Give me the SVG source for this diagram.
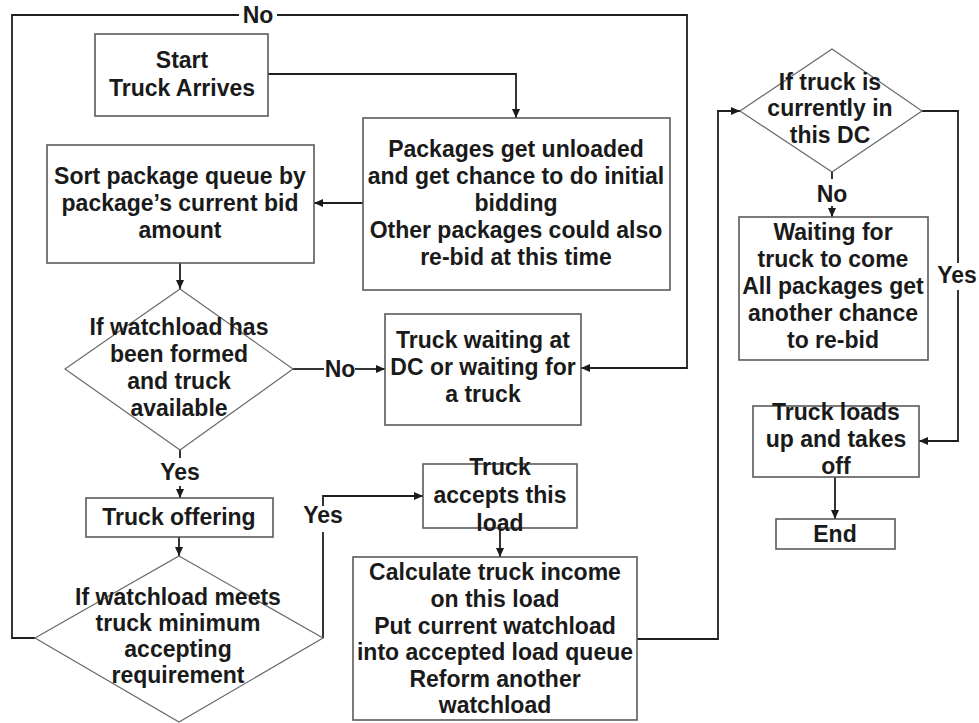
<svg xmlns="http://www.w3.org/2000/svg" width="979" height="723" viewBox="0 0 979 723">
  <defs>
    <marker id="arrow" markerUnits="userSpaceOnUse" markerWidth="10" markerHeight="8" refX="9" refY="4" orient="auto">
      <path d="M0,0 L9,4 L0,8 Z" fill="#1a1a1a"/>
    </marker>
    <style>
      .box { fill: #ffffff; stroke: #5a5a5a; stroke-width: 1.6; }
      .dia { fill: #ffffff; stroke: #6a6a6a; stroke-width: 1.2; }
      .link { fill: none; stroke: #1f1f1f; stroke-width: 1.8; }
      .arr { marker-end: url(#arrow); }
      text { font-family: "Liberation Sans", Arial, sans-serif; font-weight: bold; font-size: 23px; fill: #1a1a1a; text-anchor: middle; }
      .lbl { fill: #1a1a1a; }
    </style>
  </defs>

  <rect width="979" height="723" fill="#ffffff"/>

  <!-- connectors -->
  <g id="connectors">
    <!-- start -> unload packages -->
    <path class="link arr" d="M268,74 H516 V118"/>
    <!-- unload packages -> sort queue -->
    <path class="link arr" d="M363,203 H314"/>
    <!-- sort queue -> watchload formed? -->
    <path class="link arr" d="M180,263 V289"/>
    <!-- formed? No -> truck waiting -->
    <path class="link" d="M293,369 H324"/>
    <path class="link arr" d="M355,369 H385"/>
    <!-- formed? Yes -> truck offering -->
    <path class="link" d="M180,450 V458"/>
    <path class="link arr" d="M180,486 V498"/>
    <!-- truck offering -> meets requirement? -->
    <path class="link arr" d="M179,537 V556"/>
    <!-- meets requirement? No -> loop back to truck waiting -->
    <path class="link" d="M35,638 H12 V15 H239"/>
    <path class="link arr" d="M277,15 H687 V368 H581"/>
    <!-- meets requirement? Yes -> truck accepts load -->
    <path class="link" d="M323,638 V532"/>
    <path class="link arr" d="M323,506 V496 H423"/>
    <!-- truck accepts -> calculate income -->
    <path class="link arr" d="M500,528 V557"/>
    <!-- calculate income -> truck in DC? -->
    <path class="link arr" d="M637,639 H718 V111 H740"/>
    <!-- truck in DC? No -> waiting for truck -->
    <path class="link" d="M832,172 V179"/>
    <path class="link arr" d="M832,206 V217"/>
    <!-- truck in DC? Yes -> truck loads -->
    <path class="link" d="M922,111 H958 V263"/>
    <path class="link arr" d="M958,290 V441 H919"/>
    <!-- truck loads -> end -->
    <path class="link arr" d="M835,477 V519"/>
  </g>

  <!-- edge labels -->
  <g id="labels">
    <text x="258" y="23">No</text>
    <text x="340" y="377">No</text>
    <text x="180" y="480">Yes</text>
    <text x="323" y="523">Yes</text>
    <text x="832" y="202">No</text>
    <text x="957" y="283">Yes</text>
  </g>

  <g id="start">
    <rect class="box" x="95" y="34" width="173" height="82"/>
    <text x="182" y="68">Start</text>
    <text x="182" y="96">Truck Arrives</text>
  </g>

  <g id="unload">
    <rect class="box" x="363" y="118" width="307" height="172"/>
    <text x="516" y="157">Packages get unloaded</text>
    <text x="516" y="184">and get chance to do initial</text>
    <text x="516" y="211">bidding</text>
    <text x="516" y="238">Other packages could also</text>
    <text x="516" y="265">re-bid at this time</text>
  </g>

  <g id="sort">
    <rect class="box" x="47" y="145" width="267" height="118"/>
    <text x="180" y="184">Sort package queue by</text>
    <text x="180" y="211">package’s current bid</text>
    <text x="180" y="238">amount</text>
  </g>

  <g id="formed">
    <polygon class="dia" points="180,289 293,369 180,450 65,369"/>
    <text x="179" y="335">If watchload has</text>
    <text x="179" y="362">been formed</text>
    <text x="179" y="389">and truck</text>
    <text x="179" y="416">available</text>
  </g>

  <g id="waiting">
    <rect class="box" x="385" y="314" width="196" height="111"/>
    <text x="483" y="348">Truck waiting at</text>
    <text x="483" y="375">DC or waiting for</text>
    <text x="483" y="402">a truck</text>
  </g>

  <g id="offering">
    <rect class="box" x="86" y="498" width="187" height="39"/>
    <text x="179" y="525">Truck offering</text>
  </g>

  <g id="meets">
    <polygon class="dia" points="179,556 323,638 179,722 35,638"/>
    <text x="178" y="605">If watchload meets</text>
    <text x="178" y="631">truck minimum</text>
    <text x="178" y="657">accepting</text>
    <text x="178" y="683">requirement</text>
  </g>

  <g id="accepts">
    <rect class="box" x="423" y="464" width="154" height="64"/>
    <text x="500" y="475">Truck</text>
    <text x="500" y="503">accepts this</text>
    <text x="500" y="531">load</text>
  </g>

  <g id="income">
    <rect class="box" x="353" y="557" width="284" height="163"/>
    <text x="495" y="580">Calculate truck income</text>
    <text x="495" y="607">on this load</text>
    <text x="495" y="634">Put current watchload</text>
    <text x="495" y="660">into accepted load queue</text>
    <text x="495" y="687">Reform another</text>
    <text x="495" y="713">watchload</text>
  </g>

  <g id="inDC">
    <polygon class="dia" points="832,49 922,111 832,172 740,111"/>
    <text x="830" y="90">If truck is</text>
    <text x="830" y="116">currently in</text>
    <text x="830" y="143">this DC</text>
  </g>

  <g id="waitTruck">
    <rect class="box" x="739" y="217" width="189" height="143"/>
    <text x="833" y="240">Waiting for</text>
    <text x="833" y="267">truck to come</text>
    <text x="833" y="294">All packages get</text>
    <text x="833" y="321">another chance</text>
    <text x="833" y="348">to re-bid</text>
  </g>

  <g id="loads">
    <rect class="box" x="753" y="406" width="166" height="71"/>
    <text x="836" y="420">Truck loads</text>
    <text x="836" y="447">up and takes</text>
    <text x="836" y="474">off</text>
  </g>

  <g id="end">
    <rect class="box" x="776" y="519" width="119" height="30"/>
    <text x="835" y="542">End</text>
  </g>
</svg>
